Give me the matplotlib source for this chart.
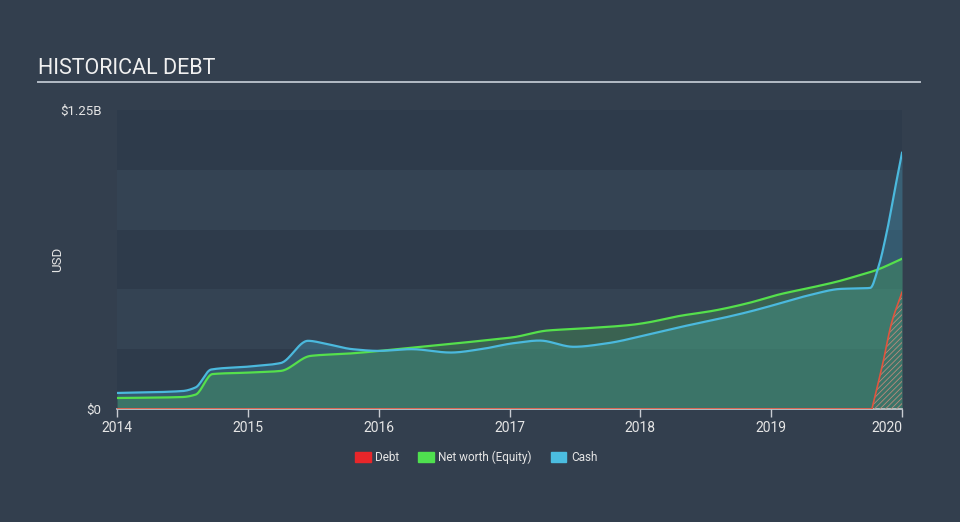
import numpy as np
import matplotlib.pyplot as plt
from matplotlib.patches import Patch

plt.rcParams['font.family'] = ['Roboto', 'DejaVu Sans']
plt.rcParams['hatch.linewidth'] = 0.6

# values in billions USD
cash_years = [2014.0, 2014.5, 2014.6, 2014.72, 2015.0, 2015.25, 2015.46, 2015.6, 2015.8,
              2016.0, 2016.25, 2016.55, 2016.78, 2017.03, 2017.23, 2017.49, 2017.75,
              2018.05, 2018.3, 2018.56, 2018.82, 2019.07, 2019.3, 2019.53, 2019.757,
              2019.818, 2019.887, 2019.948, 2020.0]
cash = [0.067, 0.075, 0.09, 0.165, 0.177, 0.192, 0.285, 0.272, 0.25,
        0.243, 0.25, 0.236, 0.25, 0.275, 0.286, 0.26, 0.275,
        0.31, 0.342, 0.372, 0.405, 0.442, 0.477, 0.502, 0.506,
        0.59, 0.749, 0.925, 1.071]

net_years = [2014.0, 2014.5, 2014.6, 2014.73, 2015.0, 2015.25, 2015.48, 2015.78, 2016.16,
             2016.78, 2017.03, 2017.29, 2017.54, 2017.92, 2018.05, 2018.3, 2018.56,
             2018.82, 2019.07, 2019.3, 2019.5, 2019.68, 2019.8, 2020.0]
net_worth = [0.046, 0.05, 0.06, 0.146, 0.152, 0.159, 0.222, 0.232, 0.251,
             0.285, 0.30, 0.328, 0.336, 0.351, 0.361, 0.389, 0.411,
             0.442, 0.48, 0.507, 0.532, 0.56, 0.58, 0.628]

debt_years = [2014.0, 2019.77, 2019.853, 2019.92, 2020.0]
debt = [0.0, 0.0, 0.191, 0.359, 0.488]


def pchip(x, y, xs):
    # monotone cubic so the flat stretches stay flat
    x = np.asarray(x, float)
    y = np.asarray(y, float)
    h = np.diff(x)
    d = np.diff(y) / h
    m = np.zeros_like(y)
    for k in range(1, len(y) - 1):
        if d[k - 1] * d[k] > 0:
            w1 = 2 * h[k] + h[k - 1]
            w2 = h[k] + 2 * h[k - 1]
            m[k] = (w1 + w2) / (w1 / d[k - 1] + w2 / d[k])
    m[0] = d[0]
    m[-1] = d[-1]
    idx = np.clip(np.searchsorted(x, xs) - 1, 0, len(h) - 1)
    t = (xs - x[idx]) / h[idx]
    h00 = 2 * t**3 - 3 * t**2 + 1
    h10 = t**3 - 2 * t**2 + t
    h01 = -2 * t**3 + 3 * t**2
    h11 = t**3 - t**2
    return h00 * y[idx] + h10 * h[idx] * m[idx] + h01 * y[idx + 1] + h11 * h[idx] * m[idx + 1]


bg = '#333f4e'
txt = '#e6e6e6'
cash_col = '#4bb9dd'
net_col = '#55e04c'
debt_col = '#e0553f'

fig = plt.figure(figsize=(9.6, 5.22), dpi=100, facecolor=bg)
ax = fig.add_axes([0.1219, 0.2165, 0.8177, 0.5728])
ax.set_facecolor(bg)

# alternating horizontal bands
for i, lo in enumerate(np.arange(0, 1.25, 0.25)):
    ax.axhspan(lo, lo + 0.25, color='#2e3b4b' if i % 2 == 0 else '#344353', lw=0, zorder=0)

xs_c = np.linspace(cash_years[0], cash_years[-1], 800)
xs_n = np.linspace(net_years[0], net_years[-1], 800)
xs_d = np.linspace(debt_years[1], debt_years[-1], 100)
yc = pchip(cash_years, cash, xs_c)
yn = pchip(net_years, net_worth, xs_n)
yd = pchip(debt_years[1:], debt[1:], xs_d)

ax.fill_between(xs_c, yc, color=cash_col, alpha=0.25, lw=0, zorder=1)
ax.fill_between(xs_n, yn, color=net_col, alpha=0.2, lw=0, zorder=2)
ax.fill_between(xs_d, yd, facecolor='none', edgecolor='#b98a7c', hatch='//////', lw=0, zorder=3)

ax.plot(xs_n, yn, color=net_col, lw=1.6, zorder=4)
ax.plot(xs_c, yc, color=cash_col, lw=1.6, zorder=5)
ax.plot([2014.0, debt_years[1]], [0, 0], color=debt_col, lw=1.2, zorder=6)
ax.plot(xs_d, yd, color=debt_col, lw=1.2, zorder=6)

ax.set_xlim(2014, 2020)
ax.set_ylim(0, 1.25)

for s in ['top', 'right', 'left']:
    ax.spines[s].set_visible(False)
ax.spines['bottom'].set_color('#c8ccd2')
ax.spines['bottom'].set_linewidth(1.2)

years = [2014, 2015, 2016, 2017, 2018, 2019, 2020]
ax.set_xticks(years)
ax.set_xticklabels([str(y) for y in years])
ax.tick_params(axis='x', colors='#c8ccd2', length=6, width=1, labelsize=10, labelcolor=txt, pad=3)
ax.get_xticklabels()[-1].set_horizontalalignment('right')

ax.set_yticks([0, 1.25])
ax.set_yticklabels(['$0', '$1.25B'])
ax.tick_params(axis='y', length=0, labelsize=9.5, labelcolor=txt, pad=11)
ax.set_ylabel('USD', color=txt, fontsize=9.5)
ax.yaxis.set_label_coords(-0.068, 0.5)

fig.text(0.040, 0.868, 'HISTORICAL DEBT', color='#f0f0f0', fontsize=15.5, va='center', ha='left')
fig.add_artist(plt.Line2D([0.040, 0.958], [0.843, 0.843], color='#b4bcc6', lw=1.4))

handles = [Patch(color='#e8262a', label='Debt'),
           Patch(color='#4fe04f', label='Net worth (Equity)'),
           Patch(color='#4bbde0', label='Cash')]
leg = fig.legend(handles=handles, loc='center', bbox_to_anchor=(0.496, 0.124), ncol=3,
                 frameon=False, fontsize=8.5, handlelength=1.3, handleheight=0.9,
                 columnspacing=1.6, handletextpad=0.4)
for t in leg.get_texts():
    t.set_color(txt)

fig.savefig('out.png', dpi=100, facecolor=bg)
